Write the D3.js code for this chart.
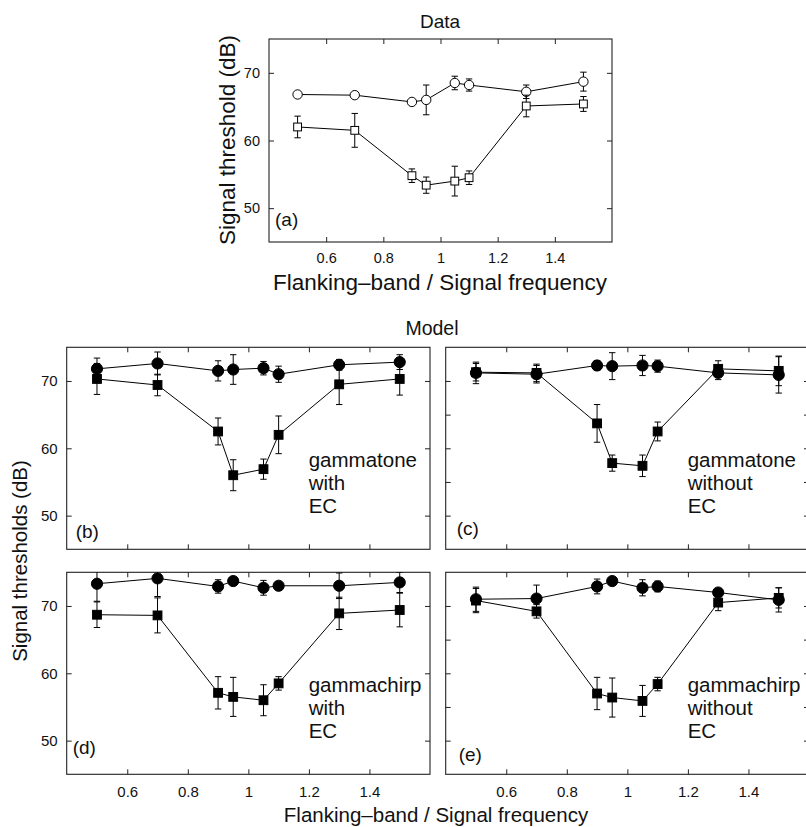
<!DOCTYPE html>
<html>
<head>
<meta charset="utf-8">
<script src="https://cdn.jsdelivr.net/npm/d3@7/dist/d3.min.js"></script>
<style>
  html, body { margin: 0; padding: 0; background: #fff; }
  svg { display: block; font-family: "Liberation Sans", Arial, Helvetica, sans-serif; }
</style>
</head>
<body>
<svg id="chart" width="806" height="827"></svg>
<script>
// ---------------- DATA ----------------
const freqRatio = [0.5, 0.7, 0.9, 0.95, 1.05, 1.1, 1.3, 1.5];
const xTickValues = [0.6, 0.8, 1, 1.2, 1.4];
const yTickLabeled = [50, 60, 70];
const yTickDense = [50, 55, 60, 65, 70];
const xDomain = [0.4, 1.6];
const yDomain = [45, 75];

// (a) Data
const aCircle    = [66.8, 66.7, 65.7, 66.0, 68.5, 68.2, 67.2, 68.7];
const aCircleErr = [0.3, 0.3, 0.3, 2.2, 1.0, 0.9, 1.0, 1.4];
const aSquare    = [62.0, 61.5, 54.8, 53.4, 54.0, 54.5, 65.1, 65.4];
const aSquareErr = [1.6, 2.5, 1.0, 1.2, 2.2, 1.0, 1.6, 1.1];

// (b) gammatone with EC
const bCircle    = [71.8, 72.6, 71.5, 71.7, 71.9, 71.0, 72.4, 72.8];
const bCircleErr = [1.6, 1.7, 1.5, 2.2, 1.0, 1.2, 0.8, 1.1];
const bSquare    = [70.3, 69.4, 62.5, 56.0, 56.9, 62.0, 69.5, 70.3];
const bSquareErr = [2.3, 1.6, 2.0, 2.3, 1.5, 2.8, 3.0, 2.4];

// (c) gammatone without EC
const cCircle    = [71.2, 71.0, 72.3, 72.2, 72.3, 72.2, 71.2, 70.9];
const cCircleErr = [1.6, 1.3, 0.7, 2.0, 1.5, 0.9, 1.0, 2.7];
const cSquare    = [71.3, 71.2, 63.7, 57.8, 57.4, 62.5, 71.8, 71.5];
const cSquareErr = [1.3, 1.3, 2.8, 1.2, 1.6, 1.4, 1.2, 2.2];

// (d) gammachirp with EC
const dCircle    = [73.3, 74.1, 72.9, 73.7, 72.7, 73.0, 73.0, 73.5];
const dCircleErr = [2.6, 2.7, 1.0, 0.4, 1.1, 0.5, 1.9, 1.5];
const dSquare    = [68.7, 68.6, 57.1, 56.5, 56.0, 58.5, 68.9, 69.4];
const dSquareErr = [1.9, 2.6, 2.4, 2.9, 2.3, 1.0, 2.4, 2.5];

// (e) gammachirp without EC
const eCircle    = [71.0, 71.1, 72.9, 73.7, 72.7, 72.9, 72.0, 70.9];
const eCircleErr = [1.8, 2.0, 1.1, 0.4, 1.2, 0.8, 0.4, 1.8];
const eSquare    = [70.8, 69.2, 57.0, 56.4, 55.9, 58.4, 70.5, 71.2];
const eSquareErr = [1.8, 1.0, 2.4, 2.9, 2.3, 1.0, 1.2, 1.5];

const panelLetters = ["(a)", "(b)", "(c)", "(d)", "(e)"];
const modelLabels = [null, ["gammatone", "with", "EC"], ["gammatone", "without", "EC"],
                     ["gammachirp", "with", "EC"], ["gammachirp", "without", "EC"]];

// ---------------- LAYOUT ----------------
const svg = d3.select("#chart");
const INK = "#000";
const BOX = "#222";

const panels = [
  { id: "a", x0: 269, x1: 612, y0: 39, y1: 242, open: true, xPad: 11,
    circle: aCircle, circleErr: aCircleErr, square: aSquare, squareErr: aSquareErr,
    xLabels: true, yLabels: true, yTicks: yTickLabeled, letterDx: 6, letterDy: 16 },
  { id: "b", x0: 66.7, x1: 430, y0: 347.3, y1: 549.3, open: false, xPad: 12,
    circle: bCircle, circleErr: bCircleErr, square: bSquare, squareErr: bSquareErr,
    xLabels: false, yLabels: true, yTicks: yTickLabeled, letterDx: 9, letterDy: 11 },
  { id: "c", x0: 445.7, x1: 809, y0: 347.3, y1: 549.3, open: false, xPad: 12,
    circle: cCircle, circleErr: cCircleErr, square: cSquare, squareErr: cSquareErr,
    xLabels: false, yLabels: false, yTicks: yTickDense, letterDx: 11, letterDy: 14 },
  { id: "d", x0: 66.7, x1: 430, y0: 572.3, y1: 774.3, open: false, xPad: 12,
    circle: dCircle, circleErr: dCircleErr, square: dSquare, squareErr: dSquareErr,
    xLabels: true, yLabels: true, yTicks: yTickLabeled, letterDx: 6, letterDy: 20 },
  { id: "e", x0: 445.7, x1: 809, y0: 572.3, y1: 774.3, open: false, xPad: 12,
    circle: eCircle, circleErr: eCircleErr, square: eSquare, squareErr: eSquareErr,
    xLabels: true, yLabels: false, yTicks: yTickDense, letterDx: 13, letterDy: 13 }
];

const TICK = 5;

panels.forEach((p, i) => {
  const x = d3.scaleLinear().domain(xDomain).range([p.x0, p.x1]);
  const y = d3.scaleLinear().domain(yDomain).range([p.y1, p.y0]);
  const g = svg.append("g");

  const clipId = "clip-" + p.id;
  svg.append("clipPath").attr("id", clipId)
    .append("rect").attr("x", p.x0).attr("y", p.y0)
    .attr("width", p.x1 - p.x0).attr("height", p.y1 - p.y0);

  const fontTick = p.id === "a" ? 14.5 : 15;
  const axB = d3.axisBottom(x).tickValues(xTickValues).tickSizeInner(-TICK).tickSizeOuter(0)
      .tickPadding(p.xPad).tickFormat(p.xLabels ? d3.format("~g") : () => "");
  const axT = d3.axisTop(x).tickValues(xTickValues).tickSizeInner(-TICK).tickSizeOuter(0).tickFormat(() => "");
  const axL = d3.axisLeft(y).tickValues(p.yTicks).tickSizeInner(-TICK).tickSizeOuter(0)
      .tickPadding(TICK + 4).tickFormat(p.yLabels ? d3.format("~g") : () => "");
  const axR = d3.axisRight(y).tickValues(p.yTicks).tickSizeInner(-TICK).tickSizeOuter(0).tickFormat(() => "");

  const gB = g.append("g").attr("transform", `translate(0,${p.y1})`).call(axB);
  const gT = g.append("g").attr("transform", `translate(0,${p.y0})`).call(axT);
  const gL = g.append("g").attr("transform", `translate(${p.x0},0)`).call(axL);
  const gR = g.append("g").attr("transform", `translate(${p.x1},0)`).call(axR);
  [gB, gT, gL, gR].forEach(a => {
    a.select(".domain").remove();
    a.selectAll(".tick line").attr("stroke", BOX).attr("stroke-width", 1);
    a.selectAll(".tick text").attr("fill", "#111").style("font-size", fontTick + "px")
      .style("font-family", '"Liberation Sans", Arial, sans-serif');
  });

  g.append("rect").attr("x", p.x0).attr("y", p.y0)
    .attr("width", p.x1 - p.x0).attr("height", p.y1 - p.y0)
    .attr("fill", "none").attr("stroke", BOX).attr("stroke-width", 1.1);

  const plot = g.append("g").attr("clip-path", `url(#${clipId})`);
  const line = d3.line().x((d, k) => x(freqRatio[k])).y(d => y(d));
  const cap = 3.2;

  function drawSeries(vals, errs, shape) {
    const eb = plot.append("g").attr("stroke", INK).attr("stroke-width", 1).attr("fill", "none");
    vals.forEach((v, k) => {
      const cx = x(freqRatio[k]);
      const yt = y(v + errs[k]), yb = y(v - errs[k]);
      eb.append("line").attr("x1", cx).attr("x2", cx).attr("y1", yt).attr("y2", yb);
      eb.append("line").attr("x1", cx - cap).attr("x2", cx + cap).attr("y1", yt).attr("y2", yt);
      eb.append("line").attr("x1", cx - cap).attr("x2", cx + cap).attr("y1", yb).attr("y2", yb);
    });
    plot.append("path").datum(vals).attr("d", line)
      .attr("fill", "none").attr("stroke", INK).attr("stroke-width", 1);
    const mk = plot.append("g");
    vals.forEach((v, k) => {
      const cx = x(freqRatio[k]), cy = y(v);
      if (shape === "circle") {
        mk.append("circle").attr("cx", cx).attr("cy", cy)
          .attr("r", p.open ? 4.7 : 5.6)
          .attr("fill", p.open ? "#fff" : INK).attr("stroke", INK).attr("stroke-width", 1);
      } else {
        const s = p.open ? 7.8 : 8.8;
        mk.append("rect").attr("x", cx - s / 2).attr("y", cy - s / 2)
          .attr("width", s).attr("height", s)
          .attr("fill", p.open ? "#fff" : INK).attr("stroke", INK).attr("stroke-width", 1);
      }
    });
  }
  drawSeries(p.circle, p.circleErr, "circle");
  drawSeries(p.square, p.squareErr, "square");

  g.append("text").attr("x", p.x0 + p.letterDx).attr("y", p.y1 - p.letterDy)
    .style("font-size", "19px").attr("fill", "#111").text(panelLetters[i]);

  if (modelLabels[i]) {
    const t = g.append("text").attr("x", p.x0 + 242).attr("y", p.y0 + 120)
      .style("font-size", "20.5px").attr("fill", "#111");
    modelLabels[i].forEach((s, j) => {
      t.append("tspan").attr("x", p.x0 + 242).attr("dy", j === 0 ? 0 : 22.8).text(s);
    });
  }
});

svg.append("text").attr("x", 440).attr("y", 28).attr("text-anchor", "middle")
  .style("font-size", "19px").attr("fill", "#111").text("Data");
svg.append("text").attr("x", 440).attr("y", 290).attr("text-anchor", "middle")
  .style("font-size", "22.5px").attr("fill", "#111").text("Flanking\u2013band / Signal frequency");
svg.append("text").attr("transform", "translate(235,140) rotate(-90)").attr("text-anchor", "middle")
  .style("font-size", "22.5px").attr("fill", "#111").text("Signal threshold (dB)");

svg.append("text").attr("x", 432).attr("y", 335).attr("text-anchor", "middle")
  .style("font-size", "19.5px").attr("fill", "#111").text("Model");
svg.append("text").attr("x", 436).attr("y", 822).attr("text-anchor", "middle")
  .style("font-size", "20.5px").attr("fill", "#111").text("Flanking\u2013band / Signal frequency");
svg.append("text").attr("transform", "translate(27,561) rotate(-90)").attr("text-anchor", "middle")
  .style("font-size", "20.5px").attr("fill", "#111").text("Signal thresholds (dB)");
</script>
</body>
</html>
